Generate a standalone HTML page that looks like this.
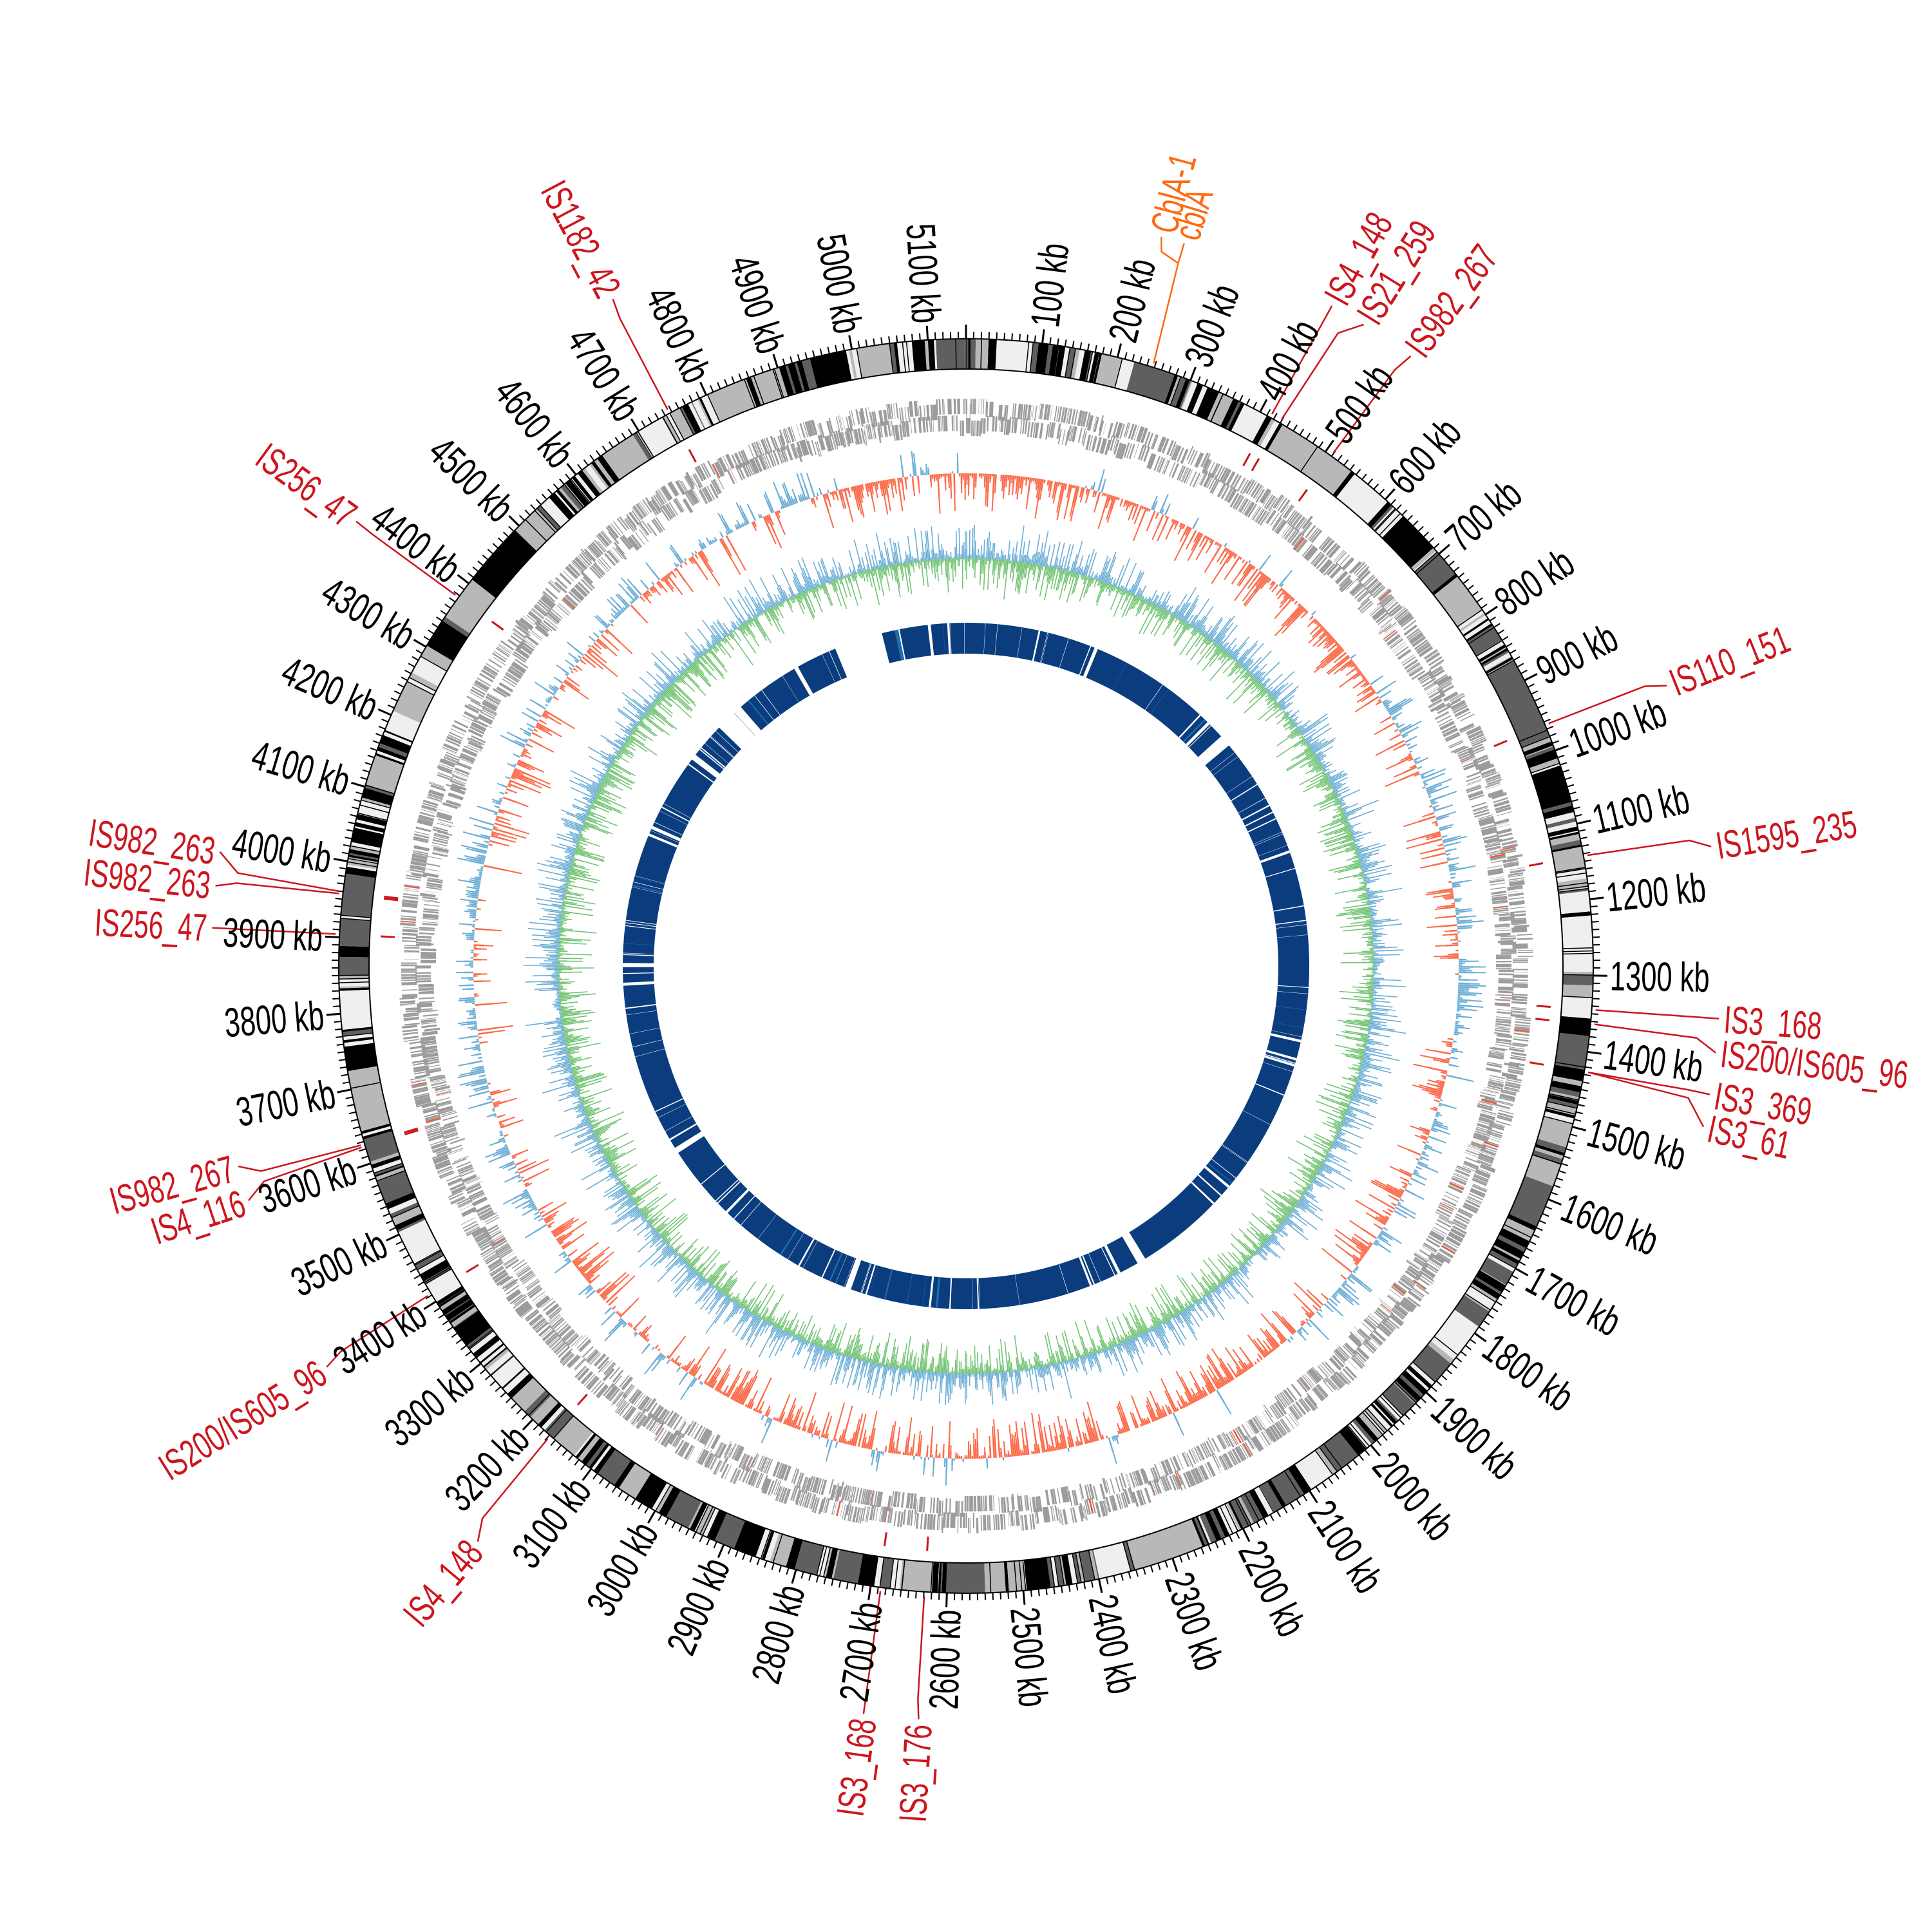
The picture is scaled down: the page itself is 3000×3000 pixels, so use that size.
<!DOCTYPE html>
<html><head><meta charset="utf-8"><style>
html,body{margin:0;padding:0;background:#fff;}
svg{display:block;}
text{font-family:"Liberation Sans",sans-serif;}
</style></head><body>
<svg id="s" xmlns="http://www.w3.org/2000/svg" width="3000" height="3000" viewBox="0 0 3000 3000">
<rect width="3000" height="3000" fill="#fff"/>
<g id="gen"></g>
<g id="lead" fill="none" stroke-width="2.5"></g>
<g transform="translate(1500,1500)" font-size="64" fill="#000">
<text transform="rotate(-83.01) translate(1000,0) scale(0.68,1)" dy="0.35em">100 kb</text>
<text transform="rotate(-76.02) translate(1000,0) scale(0.68,1)" dy="0.35em">200 kb</text>
<text transform="rotate(-69.03) translate(1000,0) scale(0.68,1)" dy="0.35em">300 kb</text>
<text transform="rotate(-62.04) translate(1000,0) scale(0.68,1)" dy="0.35em">400 kb</text>
<text transform="rotate(-55.05) translate(1000,0) scale(0.68,1)" dy="0.35em">500 kb</text>
<text transform="rotate(-48.06) translate(1000,0) scale(0.68,1)" dy="0.35em">600 kb</text>
<text transform="rotate(-41.07) translate(1000,0) scale(0.68,1)" dy="0.35em">700 kb</text>
<text transform="rotate(-34.08) translate(1000,0) scale(0.68,1)" dy="0.35em">800 kb</text>
<text transform="rotate(-27.09) translate(1000,0) scale(0.68,1)" dy="0.35em">900 kb</text>
<text transform="rotate(-20.10) translate(1000,0) scale(0.68,1)" dy="0.35em">1000 kb</text>
<text transform="rotate(-13.11) translate(1000,0) scale(0.68,1)" dy="0.35em">1100 kb</text>
<text transform="rotate(-6.12) translate(1000,0) scale(0.68,1)" dy="0.35em">1200 kb</text>
<text transform="rotate(0.87) translate(1000,0) scale(0.68,1)" dy="0.35em">1300 kb</text>
<text transform="rotate(7.86) translate(1000,0) scale(0.68,1)" dy="0.35em">1400 kb</text>
<text transform="rotate(14.85) translate(1000,0) scale(0.68,1)" dy="0.35em">1500 kb</text>
<text transform="rotate(21.84) translate(1000,0) scale(0.68,1)" dy="0.35em">1600 kb</text>
<text transform="rotate(28.84) translate(1000,0) scale(0.68,1)" dy="0.35em">1700 kb</text>
<text transform="rotate(35.83) translate(1000,0) scale(0.68,1)" dy="0.35em">1800 kb</text>
<text transform="rotate(42.82) translate(1000,0) scale(0.68,1)" dy="0.35em">1900 kb</text>
<text transform="rotate(49.81) translate(1000,0) scale(0.68,1)" dy="0.35em">2000 kb</text>
<text transform="rotate(56.80) translate(1000,0) scale(0.68,1)" dy="0.35em">2100 kb</text>
<text transform="rotate(63.79) translate(1000,0) scale(0.68,1)" dy="0.35em">2200 kb</text>
<text transform="rotate(70.78) translate(1000,0) scale(0.68,1)" dy="0.35em">2300 kb</text>
<text transform="rotate(77.77) translate(1000,0) scale(0.68,1)" dy="0.35em">2400 kb</text>
<text transform="rotate(84.76) translate(1000,0) scale(0.68,1)" dy="0.35em">2500 kb</text>
<g text-anchor="end">
<text transform="rotate(-88.25) translate(-1000,0) scale(0.68,1)" dy="0.35em">2600 kb</text>
<text transform="rotate(-81.26) translate(-1000,0) scale(0.68,1)" dy="0.35em">2700 kb</text>
<text transform="rotate(-74.27) translate(-1000,0) scale(0.68,1)" dy="0.35em">2800 kb</text>
<text transform="rotate(-67.28) translate(-1000,0) scale(0.68,1)" dy="0.35em">2900 kb</text>
<text transform="rotate(-60.29) translate(-1000,0) scale(0.68,1)" dy="0.35em">3000 kb</text>
<text transform="rotate(-53.30) translate(-1000,0) scale(0.68,1)" dy="0.35em">3100 kb</text>
<text transform="rotate(-46.31) translate(-1000,0) scale(0.68,1)" dy="0.35em">3200 kb</text>
<text transform="rotate(-39.32) translate(-1000,0) scale(0.68,1)" dy="0.35em">3300 kb</text>
<text transform="rotate(-32.33) translate(-1000,0) scale(0.68,1)" dy="0.35em">3400 kb</text>
<text transform="rotate(-25.34) translate(-1000,0) scale(0.68,1)" dy="0.35em">3500 kb</text>
<text transform="rotate(-18.35) translate(-1000,0) scale(0.68,1)" dy="0.35em">3600 kb</text>
<text transform="rotate(-11.36) translate(-1000,0) scale(0.68,1)" dy="0.35em">3700 kb</text>
<text transform="rotate(-4.37) translate(-1000,0) scale(0.68,1)" dy="0.35em">3800 kb</text>
<text transform="rotate(2.62) translate(-1000,0) scale(0.68,1)" dy="0.35em">3900 kb</text>
<text transform="rotate(9.61) translate(-1000,0) scale(0.68,1)" dy="0.35em">4000 kb</text>
<text transform="rotate(16.60) translate(-1000,0) scale(0.68,1)" dy="0.35em">4100 kb</text>
<text transform="rotate(23.59) translate(-1000,0) scale(0.68,1)" dy="0.35em">4200 kb</text>
<text transform="rotate(30.58) translate(-1000,0) scale(0.68,1)" dy="0.35em">4300 kb</text>
<text transform="rotate(37.57) translate(-1000,0) scale(0.68,1)" dy="0.35em">4400 kb</text>
<text transform="rotate(44.56) translate(-1000,0) scale(0.68,1)" dy="0.35em">4500 kb</text>
<text transform="rotate(51.55) translate(-1000,0) scale(0.68,1)" dy="0.35em">4600 kb</text>
<text transform="rotate(58.54) translate(-1000,0) scale(0.68,1)" dy="0.35em">4700 kb</text>
<text transform="rotate(65.53) translate(-1000,0) scale(0.68,1)" dy="0.35em">4800 kb</text>
<text transform="rotate(72.52) translate(-1000,0) scale(0.68,1)" dy="0.35em">4900 kb</text>
<text transform="rotate(79.52) translate(-1000,0) scale(0.68,1)" dy="0.35em">5000 kb</text>
<text transform="rotate(86.51) translate(-1000,0) scale(0.68,1)" dy="0.35em">5100 kb</text>
</g>
<g font-size="60" fill="#cc161e">
<text transform="rotate(-61.0) translate(1180,0) scale(0.68,1)" dy="0.35em">IS4_148</text>
<text transform="rotate(-58.2) translate(1180,0) scale(0.68,1)" dy="0.35em">IS21_259</text>
<text transform="rotate(-53.9) translate(1180,0) scale(0.68,1)" dy="0.35em">IS982_267</text>
<text transform="rotate(-21.8) translate(1180,0) scale(0.68,1)" dy="0.35em">IS110_151</text>
<text transform="rotate(-9.1) translate(1180,0) scale(0.68,1)" dy="0.35em">IS1595_235</text>
<text transform="rotate(4.0) translate(1180,0) scale(0.68,1)" dy="0.35em">IS3_168</text>
<text transform="rotate(6.6) translate(1180,0) scale(0.68,1)" dy="0.35em">IS200/IS605_96</text>
<text transform="rotate(9.8) translate(1180,0) scale(0.68,1)" dy="0.35em">IS3_369</text>
<text transform="rotate(12.3) translate(1180,0) scale(0.68,1)" dy="0.35em">IS3_61</text>
<g text-anchor="end">
<text transform="rotate(-82.2) translate(-1180,0) scale(0.68,1)" dy="0.35em">IS3_168</text>
<text transform="rotate(-86.4) translate(-1180,0) scale(0.68,1)" dy="0.35em">IS3_176</text>
<text transform="rotate(-49.7) translate(-1180,0) scale(0.68,1)" dy="0.35em">IS4_148</text>
<text transform="rotate(-32.1) translate(-1180,0) scale(0.68,1)" dy="0.35em">IS200/IS605_96</text>
<text transform="rotate(-15.4) translate(-1180,0) scale(0.68,1)" dy="0.35em">IS982_267</text>
<text transform="rotate(-18.1) translate(-1180,0) scale(0.68,1)" dy="0.35em">IS4_116</text>
<text transform="rotate(2.9) translate(-1180,0) scale(0.68,1)" dy="0.35em">IS256_47</text>
<text transform="rotate(6.1) translate(-1180,0) scale(0.68,1)" dy="0.35em">IS982_263</text>
<text transform="rotate(8.7) translate(-1180,0) scale(0.68,1)" dy="0.35em">IS982_263</text>
<text transform="rotate(36.1) translate(-1180,0) scale(0.68,1)" dy="0.35em">IS256_47</text>
<text transform="rotate(62.1) translate(-1180,0) scale(0.68,1)" dy="0.35em">IS1182_42</text>
</g>
</g>
<g font-size="60" fill="#ff6a10">
<text transform="rotate(-75.0) translate(1180,0) scale(0.68,1)" dy="0.35em">CblA-1</text>
<text transform="rotate(-73.2) translate(1180,0) scale(0.68,1)" dy="0.35em">cblA</text>
</g>
</g>
</svg>
<script>
(function(){
var NS="http://www.w3.org/2000/svg",cx=1500,cy=1500,G=5150,K=360/G;
var seed=12345;function rnd(){seed|=0;seed=seed+0x6D2B79F5|0;var t=Math.imul(seed^seed>>>15,1|seed);t=t+Math.imul(t^t>>>7,61|t)^t;return((t^t>>>14)>>>0)/4294967296;}
function gauss(){var u=rnd()||1e-9,v=rnd();return Math.sqrt(-2*Math.log(u))*Math.cos(2*Math.PI*v);}
function P(r,d){var a=(d-90)*Math.PI/180;return (cx+r*Math.cos(a)).toFixed(1)+" "+(cy+r*Math.sin(a)).toFixed(1);}
function arcW(r0,r1,d0,d1){var l=(d1-d0)>180?1:0;return "M"+P(r1,d0)+"A"+r1+" "+r1+" 0 "+l+" 1 "+P(r1,d1)+"L"+P(r0,d1)+"A"+r0+" "+r0+" 0 "+l+" 0 "+P(r0,d0)+"Z";}
function qW(r0,r1,d0,d1){return "M"+P(r1,d0)+"L"+P(r1,d1)+"L"+P(r0,d1)+"L"+P(r0,d0)+"Z";}
function rl(r0,r1,d){return "M"+P(r0,d)+"L"+P(r1,d);}
var gen=document.getElementById("gen");
function add(d,attrs){var p=document.createElementNS(NS,"path");p.setAttribute("d",d);for(var k in attrs)p.setAttribute(k,attrs[k]);gen.appendChild(p);}
// Ideogram
var paths={"#000000":"","#5f5f5f":"","#b8b8b8":"","#efefef":""},sep="";
var pos=0;
while(pos<G){var wide=rnd()<0.13;var w=wide?12+rnd()*45:0.8+rnd()*7;var c;var r=rnd();
 if(wide){c=r<0.1?"#000000":r<0.45?"#5f5f5f":r<0.75?"#b8b8b8":"#efefef";}else{c=r<0.4?"#000000":r<0.6?"#5f5f5f":r<0.8?"#b8b8b8":"#efefef";}
 var e=Math.min(G,pos+w);paths[c]+=arcW(927,974,pos*K,e*K);if(rnd()<0.5)sep+=rl(927,974,e*K);pos=e;}
for(var c in paths)add(paths[c],{fill:c});
add(sep,{stroke:"#000","stroke-width":"1.5",fill:"none"});
var circ=function(r,sw){var c=document.createElementNS(NS,"circle");c.setAttribute("cx",cx);c.setAttribute("cy",cy);c.setAttribute("r",r);c.setAttribute("fill","none");c.setAttribute("stroke","#000");c.setAttribute("stroke-width",sw);gen.appendChild(c);};
circ(927,2);circ(974,2);
var tmaj="",tmin="";for(var k=0;k<G;k+=10){if(k%100==0)tmaj+=rl(974,996,k*K);else tmin+=rl(974,985,k*K);}
add(tmaj,{stroke:"#000","stroke-width":"3",fill:"none"});add(tmin,{stroke:"#000","stroke-width":"2",fill:"none"});
// genes
var gp="",gr="";var lvO=0,lvI=0;pos=0;
while(pos<G){var len=0.4+rnd()*2.6;var strand=rnd()<0.5;
 if(rnd()<0.1)lvO=Math.floor(rnd()*3);if(rnd()<0.1)lvI=Math.floor(rnd()*3);
 var d0=pos*K,d1=(pos+len*0.9)*K,pth;
 if(strand)pth=qW(849+lvO*4,873+lvO*4,d0,d1);else pth=qW(823+lvI*4,847+lvI*4,d0,d1);
 if(rnd()<0.012)gr+=pth;else gp+=pth;
 pos+=len*0.55+(rnd()<0.8?0.05:rnd()*2);}
add(gp,{fill:"#9c9c9c"});add(gr,{fill:"#f05a3c"});
var isG=[29.0,30.0,35.6,67.4,79.9,94.0,95.3,99.7,188.0,183.8,221.5,238.5,253.5,253.3,272.9,276.6,276.8,306,331.8];
var im="";isG.forEach(function(g){im+=rl(888,910,g);});add(im,{stroke:"#cc161e","stroke-width":"3",fill:"none"});
var lead=document.getElementById("lead");
var L=[[29.0,29.0],[30.0,31.8],[35.6,36.1],[67.4,68.2],[79.9,80.9],[94.0,94.0],[95.3,96.6],[99.7,99.8],[99.7,102.3],[187.8,187.8],[183.8,183.6],[221.5,220.3],[238.5,237.9],[253.5,254.6],[253.3,251.9],[272.9,272.9],[276.6,276.1],[276.8,278.7],[306,306.1],[331.8,332.1]];
var ld="";L.forEach(function(a){var g=a[0],l=a[1];ld+="M"+P(980,g)+"L"+P(1140,g+(l-g)*0.25)+"L"+P(1172,l);});
var lp=document.createElementNS(NS,"path");lp.setAttribute("d",ld);lp.setAttribute("stroke","#cc161e");lead.appendChild(lp);
var op=document.createElementNS(NS,"path");op.setAttribute("d","M"+P(980,17.3)+"L"+P(1140,16.8)+"L"+P(1172,16.8)+"M"+P(1140,16.8)+"L"+P(1150,15.3)+"L"+P(1172,15.0));op.setAttribute("stroke","#ff6a10");lead.appendChild(op);
// skew track 1 (spiky)
var N=1700,dk=G/N,m=0,fb="",fr="",lb="",lr="";
for(var i=0;i<N;i++){var p=i*dk;var bias=(p<800||p>4900||(p>1950&&p<3100))?-0.45:0.05;
 m=0.9*m+0.45*gauss();var s=0.35*m+bias;
 var sg=(s+0.35*gauss())>=0?1:-1;
 var sp=Math.pow(rnd(),2.2);
 var v=sg*(4+sp*(sg>0?40:60));
 if(rnd()<0.12)v=0;
 var d0=p*K,d1=(p+dk)*K,dm=(p+dk/2)*K;
 if(v>=0){fb+=qW(765,765+v*0.55,d0,d1);lb+=rl(765,765+v,dm);}else{fr+=qW(765+v*0.55,765,d0,d1);lr+=rl(765+v,765,dm);}}
add(fb,{fill:"#a6cde4"});add(fr,{fill:"#fc9478"});
add(lb,{stroke:"#6baed6","stroke-width":"2",fill:"none"});add(lr,{stroke:"#fb6a4a","stroke-width":"2",fill:"none"});
// track 2
var N2=1800,dk2=G/N2,fb2="",fg2="",lb2="",lg2="";
for(var i=0;i<N2;i++){var p=i*dk2,d0=p*K,d1=(p+dk2)*K,dm=(p+dk2/2)*K;
 var b=Math.abs(gauss())*6+Math.pow(rnd(),3)*48; var gg=Math.abs(gauss())*6+Math.pow(rnd(),3)*50;
 fb2+=qW(633,633+b*0.35,d0,d1);lb2+=rl(633,633+b,dm);
 fg2+=qW(633-gg*0.35,633,d0,d1);lg2+=rl(633-gg,633,dm);}
add(fg2,{fill:"#a6dba0"});add(fb2,{fill:"#a6cde4","fill-opacity":"0.8"});
add(lg2,{stroke:"#74c476","stroke-width":"1.6",fill:"none"});add(lb2,{stroke:"#6baed6","stroke-width":"1.6",fill:"none"});
// blue ring
var gaps=[[22,22.6],[48,50],[148.5,150],[199.6,200.6],[237,238],[269.8,270.5],[307,308],[314,319],[337.6,345.8]];
var st=0,bp="";gaps.forEach(function(g){bp+=arcW(485,533,st,g[0]);st=g[1];});bp+=arcW(485,533,st,360);
add(bp,{fill:"#0b3d7e"});
var wl="",ll="";for(var i=0;i<150;i++){var a=rnd()*360;var w=0.05+Math.pow(rnd(),3)*0.5;if(rnd()<0.15)ll+=qW(485,533,a,a+w);else wl+=qW(485,533,a,a+w);}
add(wl,{fill:"#fff"});add(ll,{fill:"#1f6eb0"});
})();
</script>
</body></html>
